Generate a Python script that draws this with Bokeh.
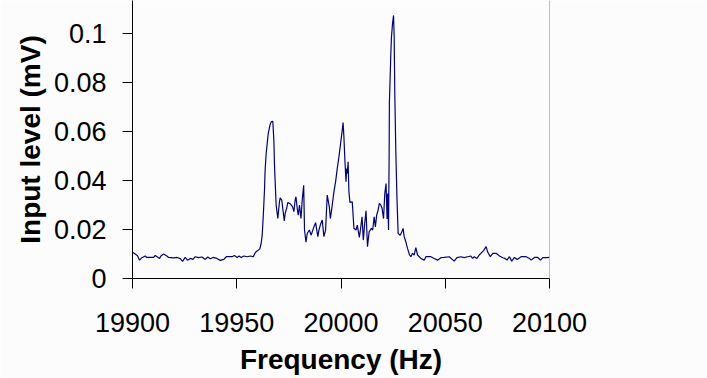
from bokeh.plotting import figure
from bokeh.models import Range1d, FixedTicker, Span, CustomJSTickFormatter
from bokeh.embed import file_html
from bokeh.resources import INLINE

# ---- data ----
freq_hz = [
    19900.0, 19901.3, 19902.4, 19903.4, 19904.5, 19906.1, 19906.9, 19910.1, 19910.9, 19912.0,
    19913.0, 19913.6, 19914.9, 19916.5, 19917.3, 19919.7, 19921.3, 19922.9, 19924.0, 19925.3,
    19926.4, 19927.7, 19929.0, 19930.1, 19931.7, 19933.3, 19934.9, 19936.1, 19937.3, 19938.6,
    19940.5, 19942.1, 19943.8, 19945.0, 19947.8, 19948.9, 19950.2, 19951.1, 19952.1, 19953.4,
    19955.0, 19956.6, 19957.9, 19959.0, 19960.1, 19961.1, 19961.7, 19962.2, 19962.7, 19963.3,
    19963.6, 19964.1, 19964.6, 19965.1, 19965.9, 19966.5, 19967.3, 19967.8, 19968.1, 19968.6,
    19968.9, 19969.4, 19969.7, 19970.4, 19970.8, 19971.6, 19972.3, 19972.8, 19973.2, 19973.9,
    19974.5, 19975.8, 19976.8, 19977.4, 19978.0, 19978.4, 19979.0, 19979.5, 19980.1, 19980.8,
    19981.4, 19982.1, 19982.5, 19983.2, 19983.8, 19984.8, 19985.7, 19987.0, 19987.8, 19988.9,
    19989.4, 19990.2, 19991.0, 19991.8, 19992.6, 19993.4, 19994.4, 19994.9, 19995.7, 19996.6,
    19997.4, 19998.2, 19999.0, 19999.8, 20000.5, 20001.0, 20001.4, 20001.9, 20002.4, 20002.7,
    20003.0, 20003.4, 20003.8, 20004.3, 20005.4, 20006.2, 20007.2, 20007.8, 20008.8, 20009.5,
    20010.1, 20010.7, 20011.4, 20012.0, 20012.7, 20013.5, 20014.6, 20015.2, 20015.9, 20016.5,
    20017.1, 20017.8, 20018.4, 20019.1, 20019.7, 20020.4, 20021.0, 20021.6, 20022.1, 20022.4,
    20022.8, 20023.1, 20023.2, 20023.9, 20024.2, 20024.7, 20025.2, 20025.5, 20025.8, 20026.3,
    20026.8, 20027.4, 20028.4, 20029.2, 20029.8, 20030.3, 20031.1, 20031.9, 20032.9, 20033.5,
    20034.3, 20035.1, 20035.9, 20036.7, 20038.3, 20039.9, 20040.7, 20043.1, 20044.7, 20046.3,
    20047.9, 20049.5, 20051.9, 20054.3, 20055.6, 20057.5, 20059.1, 20060.7, 20062.3, 20063.1,
    20063.9, 20065.2, 20066.3, 20067.1, 20068.4, 20069.6, 20070.4, 20071.6, 20072.8, 20074.4,
    20076.0, 20077.6, 20078.7, 20079.6, 20080.8, 20081.9, 20083.2, 20084.5, 20086.4, 20088.8,
    20090.4, 20091.2, 20092.8, 20094.4, 20095.7, 20096.8, 20098.4, 20100.0,
]
level_mv = [
    0.0107, 0.0100, 0.0093, 0.0075, 0.0085, 0.0092, 0.0086, 0.0086, 0.0094, 0.0088,
    0.0082, 0.0092, 0.0100, 0.0092, 0.0086, 0.0084, 0.0086, 0.0081, 0.0070, 0.0086,
    0.0075, 0.0082, 0.0078, 0.0089, 0.0085, 0.0088, 0.0078, 0.0088, 0.0081, 0.0086,
    0.0082, 0.0074, 0.0078, 0.0089, 0.0089, 0.0094, 0.0086, 0.0092, 0.0086, 0.0092,
    0.0089, 0.0092, 0.0089, 0.0107, 0.0114, 0.0122, 0.0143, 0.0177, 0.0252, 0.0361,
    0.0443, 0.0510, 0.0551, 0.0592, 0.0626, 0.0640, 0.0642, 0.0565, 0.0463, 0.0361,
    0.0300, 0.0266, 0.0245, 0.0307, 0.0330, 0.0320, 0.0270, 0.0235, 0.0266, 0.0286,
    0.0311, 0.0304, 0.0293, 0.0273, 0.0320, 0.0334, 0.0286, 0.0259, 0.0300, 0.0245,
    0.0320, 0.0381, 0.0198, 0.0148, 0.0184, 0.0198, 0.0177, 0.0211, 0.0228, 0.0171,
    0.0198, 0.0222, 0.0239, 0.0171, 0.0198, 0.0341, 0.0293, 0.0245, 0.0293, 0.0354,
    0.0395, 0.0449, 0.0497, 0.0551, 0.0599, 0.0637, 0.0578, 0.0477, 0.0395, 0.0449,
    0.0429, 0.0477, 0.0354, 0.0311, 0.0313, 0.0205, 0.0198, 0.0218, 0.0168, 0.0211,
    0.0252, 0.0157, 0.0228, 0.0277, 0.0130, 0.0191, 0.0205, 0.0198, 0.0252, 0.0211,
    0.0259, 0.0279, 0.0307, 0.0300, 0.0286, 0.0245, 0.0347, 0.0388, 0.0243, 0.0347,
    0.0198, 0.0517, 0.0714, 0.0918, 0.0986, 0.1041, 0.1075, 0.0986, 0.0755, 0.0517,
    0.0341, 0.0184, 0.0177, 0.0191, 0.0205, 0.0171, 0.0150, 0.0123, 0.0096, 0.0089,
    0.0103, 0.0096, 0.0126, 0.0096, 0.0082, 0.0075, 0.0089, 0.0089, 0.0082, 0.0075,
    0.0085, 0.0086, 0.0089, 0.0071, 0.0085, 0.0089, 0.0085, 0.0089, 0.0092, 0.0082,
    0.0089, 0.0082, 0.0096, 0.0103, 0.0114, 0.0130, 0.0107, 0.0089, 0.0103, 0.0103,
    0.0092, 0.0085, 0.0082, 0.0075, 0.0089, 0.0071, 0.0086, 0.0078, 0.0089, 0.0089,
    0.0082, 0.0075, 0.0086, 0.0086, 0.0075, 0.0085, 0.0085, 0.0086,
]
x_ticks = [19900, 19950, 20000, 20050, 20100]
y_ticks = [0, 0.02, 0.04, 0.06, 0.08, 0.1]
x_title = "Frequency (Hz)"
y_title = "Input level (mV)"

BG = "#FCFCFC"
FONT = "Liberation Sans"

p = figure(width=707, height=378, output_backend="svg", toolbar_location=None,
           x_range=Range1d(19900, 20100), y_range=Range1d(0, 0.1136),
           min_border_left=132, min_border_right=158, min_border_top=0,
           min_border_bottom=100)
p.background_fill_color = BG
p.border_fill_color = BG
p.outline_line_color = None
p.xgrid.visible = False
p.ygrid.visible = False

p.line(freq_hz, level_mv, line_color="#000080", line_width=1.2)

p.add_layout(Span(location=20100, dimension="height", line_color="#808080", line_width=1))

fmt = CustomJSTickFormatter(code="return String(parseFloat(tick.toFixed(4)));")
for ax, ticks in ((p.xaxis[0], x_ticks), (p.yaxis[0], y_ticks)):
    ax.ticker = FixedTicker(ticks=ticks)
    ax.formatter = fmt
    ax.minor_tick_line_color = None
    ax.major_tick_in = 0
    ax.major_tick_out = 10
    ax.axis_line_color = "black"
    ax.major_tick_line_color = "black"
    ax.major_label_text_font = FONT
    ax.major_label_text_font_size = "27px"
    ax.major_label_text_color = "black"
    ax.axis_label_text_font = FONT
    ax.axis_label_text_font_size = "28px"
    ax.axis_label_text_font_style = "bold"
    ax.axis_label_text_color = "black"

p.xaxis.axis_label = x_title
p.yaxis.axis_label = y_title
p.xaxis.major_label_standoff = 24
p.xaxis.axis_label_standoff = 9
p.yaxis.major_label_standoff = 16
p.yaxis.axis_label_standoff = 5
p.yaxis.major_label_orientation = "horizontal"

open("out.html", "w").write(file_html(p, INLINE))
